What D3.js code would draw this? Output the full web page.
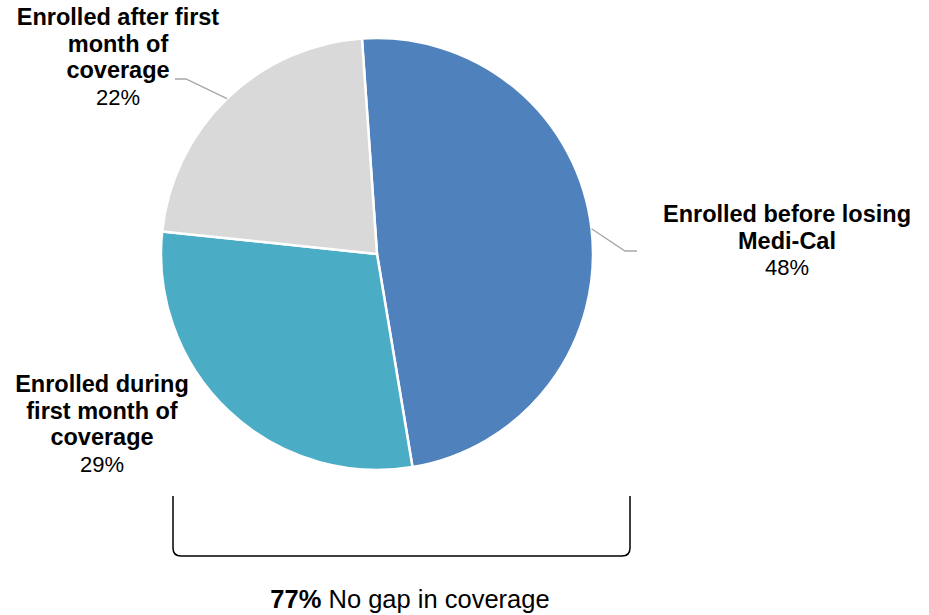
<!DOCTYPE html>
<html>
<head>
<meta charset="utf-8">
<script src="https://cdn.jsdelivr.net/npm/d3@7"></script>
<style>
  html, body { margin: 0; padding: 0; background: #fff; }
  svg { display: block; font-family: "Liberation Sans", Arial, sans-serif; }
</style>
</head>
<body>
<svg id="chart" width="929" height="615"></svg>
<script>
// Enrollment timing categories and their shares (percent)
const categories = [
  "Enrolled before losing Medi-Cal",
  "Enrolled during first month of coverage",
  "Enrolled after first month of coverage"
];
const shares = [48, 29, 22];
const colors = ["#4F81BD", "#4BACC6", "#D9D9D9"];

// Label text broken into lines (bold title lines, then the percentage)
const labelLines = [
  ["Enrolled before losing", "Medi-Cal"],
  ["Enrolled during", "first month of", "coverage"],
  ["Enrolled after first", "month of", "coverage"]
];

const summaryValue = "77%";
const summaryText = " No gap in coverage";

const svg = d3.select("#chart");
const cx = 377, cy = 254, radius = 216;
const startAngle = -4 * Math.PI / 180;

const pie = d3.pie()
  .value(d => d.value)
  .sort(null)
  .startAngle(startAngle)
  .endAngle(startAngle + 2 * Math.PI);

const data = categories.map((c, i) => ({ name: c, value: shares[i], color: colors[i], lines: labelLines[i] }));
const arcs = pie(data);

const arc = d3.arc().innerRadius(0).outerRadius(radius);
const edge = d3.arc().innerRadius(radius).outerRadius(radius);

const g = svg.append("g").attr("transform", `translate(${cx},${cy})`);

g.selectAll("path.slice")
  .data(arcs)
  .join("path")
  .attr("class", "slice")
  .attr("d", arc)
  .attr("fill", d => d.data.color)
  .attr("stroke", "#fff")
  .attr("stroke-width", 2.5)
  .attr("stroke-linejoin", "round");

// Label layout: anchor centre x, first baseline y, and optional leader elbow/end
const labelLayout = [
  { x: 787, y: 222, leader: [[625, 251], [637, 251]] },
  { x: 102, y: 392, leader: null },
  { x: 118, y: 25, leader: [[186, 79], [175, 79]] }
];
const lineGap = 26.5;

arcs.forEach((a, i) => {
  const L = labelLayout[i];
  if (L.leader) {
    const p = edge.centroid(a);
    const pts = [[p[0] + cx, p[1] + cy], ...L.leader];
    svg.append("path")
      .attr("d", d3.line()(pts))
      .attr("fill", "none")
      .attr("stroke", "#A6A6A6")
      .attr("stroke-width", 1.3);
  }
  const t = svg.append("text")
    .attr("text-anchor", "middle")
    .attr("fill", "#000");
  a.data.lines.forEach((ln, k) => {
    t.append("tspan")
      .attr("x", L.x)
      .attr("y", L.y + k * lineGap)
      .attr("font-weight", "bold")
      .attr("font-size", 23.5)
      .text(ln);
  });
  t.append("tspan")
    .attr("x", L.x)
    .attr("y", L.y + a.data.lines.length * lineGap)
    .attr("font-size", 22)
    .text(d3.format(".0f")(a.data.value) + "%");
});

// Bracket under the two no-gap slices
const bx0 = 173, bx1 = 630, byTop = 496, byBot = 556, rr = 8;
svg.append("path")
  .attr("d", `M${bx0},${byTop} L${bx0},${byBot - rr} Q${bx0},${byBot} ${bx0 + rr},${byBot} L${bx1 - rr},${byBot} Q${bx1},${byBot} ${bx1},${byBot - rr} L${bx1},${byTop}`)
  .attr("fill", "none")
  .attr("stroke", "#000")
  .attr("stroke-width", 1.5);

const s = svg.append("text")
  .attr("x", 410)
  .attr("y", 608)
  .attr("text-anchor", "middle")
  .attr("font-size", 25.5)
  .attr("fill", "#000");
s.append("tspan").attr("font-weight", "bold").text(summaryValue);
s.append("tspan").text(summaryText);
</script>
</body>
</html>
